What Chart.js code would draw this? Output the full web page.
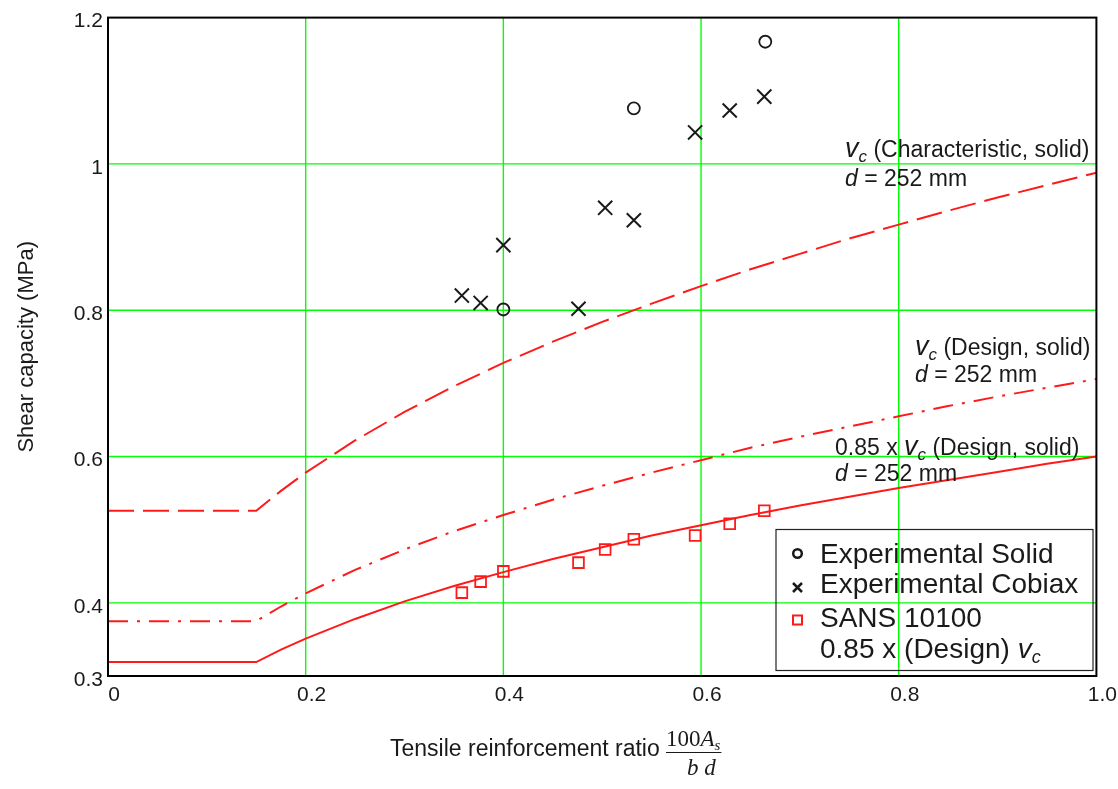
<!DOCTYPE html>
<html>
<head>
<meta charset="utf-8">
<script src="https://cdn.jsdelivr.net/npm/chart.js@4.4.0/dist/chart.umd.min.js"></script>
<style>
  html, body { margin: 0; padding: 0; background: #fff; }
  #wrap { width: 1118px; height: 789px; position: relative; }
</style>
</head>
<body>
<div id="wrap"><canvas id="chart"></canvas></div>
<script>
// reinforcement ratio 100As/bd where the code curves were sampled
const ratio = [0, 0.15, 0.175, 0.2, 0.25, 0.3, 0.35, 0.4, 0.45, 0.5, 0.55, 0.6, 0.65, 0.7, 0.75, 0.8, 0.85, 0.9, 0.95, 1.0];
// vc (Characteristic, solid), d = 252 mm
const vcChar = [0.526, 0.526, 0.553, 0.578, 0.622, 0.661, 0.696, 0.728, 0.757, 0.784, 0.809, 0.833, 0.856, 0.877, 0.898, 0.917, 0.936, 0.954, 0.971, 0.988];
// vc (Design, solid), d = 252 mm
const vcDesign = [0.375, 0.375, 0.395, 0.413, 0.445, 0.473, 0.498, 0.520, 0.541, 0.560, 0.578, 0.595, 0.612, 0.627, 0.641, 0.655, 0.669, 0.682, 0.694, 0.706];
// 0.85 x vc (Design, solid), d = 252 mm
const vcDesign85 = [0.319, 0.319, 0.336, 0.351, 0.378, 0.402, 0.423, 0.442, 0.460, 0.476, 0.492, 0.506, 0.520, 0.533, 0.545, 0.557, 0.568, 0.579, 0.590, 0.600];

// test results
const solidX = [0.400, 0.532, 0.665];
const solidY = [0.801, 1.076, 1.167];
const cobiaxX = [0.358, 0.377, 0.400, 0.476, 0.503, 0.532, 0.594, 0.629, 0.664];
const cobiaxY = [0.820, 0.810, 0.889, 0.802, 0.940, 0.923, 1.043, 1.073, 1.092];
const sansX = [0.358, 0.377, 0.400, 0.476, 0.503, 0.532, 0.594, 0.629, 0.664];
const sansY = [0.414, 0.429, 0.443, 0.455, 0.473, 0.487, 0.492, 0.508, 0.526];

// axis ticks
const xTicks = [0, 0.2, 0.4, 0.6, 0.8, 1.0];
const xTickLabels = ['0', '0.2', '0.4', '0.6', '0.8', '1.0'];
const yTicks = [0.3, 0.4, 0.6, 0.8, 1.0, 1.2];
const yTickLabels = ['0.3', '0.4', '0.6', '0.8', '1', '1.2'];

const SANS = "'Liberation Sans', Arial, Helvetica, sans-serif";
const SERIF = "'Liberation Serif', 'Times New Roman', serif";
const INK = '#1a1a1a';
const RED = '#ff1a1a';
const GREEN = '#00ff00';

const pts = (xs, ys) => xs.map((x, i) => ({ x, y: ys[i] }));

// draws a run of text pieces one after another on one baseline
function rich(ctx, x, y, parts) {
  for (const p of parts) {
    ctx.font = p.font;
    ctx.fillText(p.text, x, y + (p.dy || 0));
    x += ctx.measureText(p.text).width;
  }
  return x;
}
const vSym = [
  { text: 'v', font: `italic 27px ${SANS}` },
  { text: 'c', font: `italic 17px ${SANS}`, dy: 5 }
];

// inner green grid, edges are covered by the frame
const greenGrid = {
  id: 'greenGrid',
  beforeDatasetsDraw(chart) {
    const { ctx, chartArea: a, scales: { x, y } } = chart;
    ctx.save();
    ctx.strokeStyle = GREEN;
    ctx.lineWidth = 1.4;
    ctx.beginPath();
    xTicks.slice(1, -1).forEach(v => {
      const px = x.getPixelForValue(v);
      ctx.moveTo(px, a.top); ctx.lineTo(px, a.bottom);
    });
    yTicks.slice(1, -1).forEach(v => {
      const py = y.getPixelForValue(v);
      ctx.moveTo(a.left, py); ctx.lineTo(a.right, py);
    });
    ctx.stroke();
    ctx.restore();
  }
};

const overlay = {
  id: 'overlay',
  afterDraw(chart) {
    const { ctx, chartArea: a } = chart;
    ctx.save();

    // frame round the plot
    ctx.strokeStyle = '#000';
    ctx.lineWidth = 2;
    ctx.strokeRect(a.left, a.top, a.right - a.left, a.bottom - a.top);

    ctx.fillStyle = INK;
    ctx.textAlign = 'left';
    ctx.textBaseline = 'alphabetic';
    const body = `23px ${SANS}`;
    const dLine = [{ text: 'd', font: `italic 23px ${SANS}` }, { text: ' = 252 mm', font: body }];

    rich(ctx, 845, 157, [...vSym, { text: ' (Characteristic, solid)', font: body }]);
    rich(ctx, 845, 186, dLine);
    rich(ctx, 915, 355, [...vSym, { text: ' (Design, solid)', font: body }]);
    rich(ctx, 915, 382, dLine);
    rich(ctx, 835, 455, [{ text: '0.85 x ', font: body }, ...vSym, { text: ' (Design, solid)', font: body }]);
    rich(ctx, 835, 481, dLine);

    // legend
    ctx.strokeStyle = '#222';
    ctx.lineWidth = 1.2;
    ctx.strokeRect(776, 529.5, 317, 141);
    const mx = 797.5;
    ctx.strokeStyle = INK;
    ctx.lineWidth = 2.5;
    ctx.beginPath();
    ctx.arc(mx, 553.5, 4.3, 0, Math.PI * 2);
    ctx.stroke();
    ctx.beginPath();
    ctx.moveTo(mx - 4.5, 583); ctx.lineTo(mx + 4.5, 592);
    ctx.moveTo(mx + 4.5, 583); ctx.lineTo(mx - 4.5, 592);
    ctx.stroke();
    ctx.strokeStyle = RED;
    ctx.lineWidth = 2;
    ctx.strokeRect(mx - 4.5, 615.5, 9, 9);

    const leg = `28px ${SANS}`;
    ctx.font = leg;
    ctx.fillText('Experimental Solid', 820, 563);
    ctx.fillText('Experimental Cobiax', 820, 593);
    ctx.fillText('SANS 10100', 820, 627);
    rich(ctx, 820, 658, [{ text: '0.85 x (Design) ', font: leg },
      { text: 'v', font: `italic 28px ${SANS}` }, { text: 'c', font: `italic 18px ${SANS}`, dy: 5 }]);

    // x axis title with the ratio written as a fraction
    ctx.font = `23px ${SANS}`;
    ctx.fillText('Tensile reinforcement ratio', 390, 756);
    const fx = 666;
    const end = rich(ctx, fx, 746, [
      { text: '100', font: `23px ${SERIF}` },
      { text: 'A', font: `italic 23px ${SERIF}` },
      { text: 's', font: `italic 15px ${SERIF}`, dy: 4 }
    ]);
    ctx.strokeStyle = INK;
    ctx.lineWidth = 1.2;
    ctx.beginPath();
    ctx.moveTo(fx, 752.5); ctx.lineTo(end + 1, 752.5);
    ctx.stroke();
    ctx.font = `italic 23px ${SERIF}`;
    ctx.fillText('b d', 687, 775);

    ctx.restore();
  }
};

new Chart(document.getElementById('chart'), {
  type: 'scatter',
  data: {
    datasets: [{
      label: 'Experimental Solid',
      data: pts(solidX, solidY),
      pointStyle: 'circle',
      pointRadius: 6,
      borderWidth: 1.8,
      borderColor: INK,
      backgroundColor: 'rgba(0,0,0,0)'
    }, {
      label: 'Experimental Cobiax',
      data: pts(cobiaxX, cobiaxY),
      pointStyle: 'crossRot',
      pointRadius: 10,
      borderWidth: 2,
      borderColor: INK
    }, {
      label: 'SANS 10100',
      data: pts(sansX, sansY),
      pointStyle: 'rect',
      pointRadius: 7.6,
      borderWidth: 1.8,
      borderColor: RED,
      backgroundColor: 'rgba(0,0,0,0)'
    }, {
      label: 'vc characteristic',
      data: pts(ratio, vcChar),
      showLine: true,
      pointRadius: 0,
      borderColor: RED,
      borderWidth: 2,
      borderDash: [26, 9]
    }, {
      label: 'vc design',
      data: pts(ratio, vcDesign),
      showLine: true,
      pointRadius: 0,
      borderColor: RED,
      borderWidth: 2,
      borderDash: [20, 9, 3, 9]
    }, {
      label: '0.85 vc design',
      data: pts(ratio, vcDesign85),
      showLine: true,
      pointRadius: 0,
      borderColor: RED,
      borderWidth: 2
    }]
  },
  options: {
    responsive: true,
    maintainAspectRatio: false,
    animation: false,
    events: [],
    layout: { padding: { top: 15, right: 17, left: 0, bottom: 0 } },
    plugins: {
      legend: { display: false },
      tooltip: { enabled: false }
    },
    scales: {
      x: {
        type: 'linear',
        min: 0,
        max: 1,
        afterBuildTicks: (s) => { s.ticks = xTicks.map(v => ({ value: v })); },
        afterFit: (s) => { s.height = 113; },
        grid: { display: false, drawTicks: false },
        border: { color: '#000', width: 2 },
        ticks: {
          padding: 7,
          labelOffset: 6,
          maxRotation: 0,
          autoSkip: false,
          color: INK,
          font: { family: SANS, size: 21 },
          callback: (v, i) => xTickLabels[i]
        }
      },
      y: {
        type: 'linear',
        min: 0.3,
        max: 1.2,
        afterBuildTicks: (s) => { s.ticks = yTicks.map(v => ({ value: v })); },
        afterFit: (s) => { s.width = 108; },
        grid: { display: false, drawTicks: false },
        border: { color: '#000', width: 2 },
        ticks: {
          padding: 5,
          labelOffset: 4,
          autoSkip: false,
          color: INK,
          font: { family: SANS, size: 21 },
          callback: (v, i) => yTickLabels[i]
        },
        title: {
          display: true,
          text: 'Shear capacity (MPa)',
          color: INK,
          font: { family: SANS, size: 22 },
          padding: { top: 14, bottom: 0 }
        }
      }
    }
  },
  plugins: [greenGrid, overlay]
});
</script>
</body>
</html>
